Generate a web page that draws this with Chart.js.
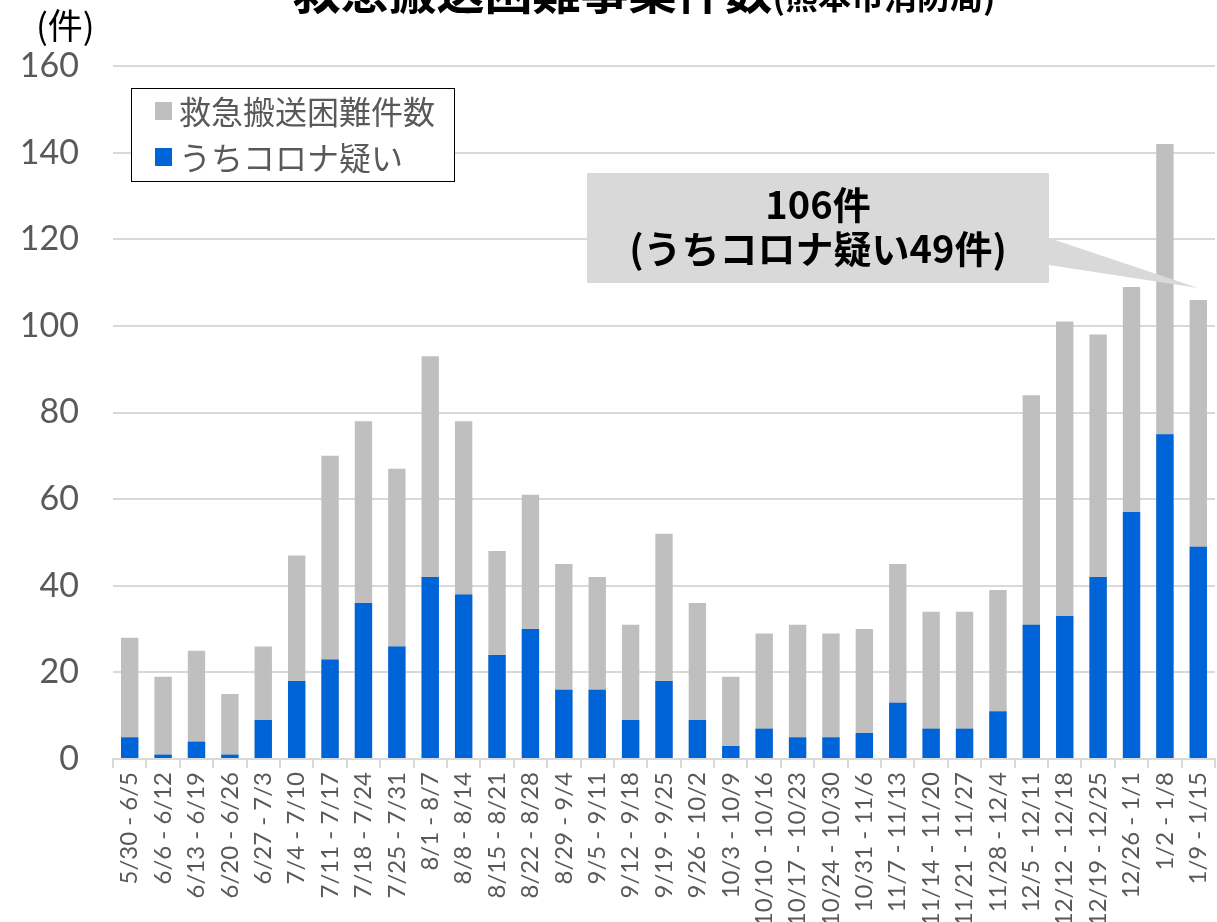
<!DOCTYPE html>
<html lang="ja">
<head>
<meta charset="utf-8">
<title>救急搬送困難事案件数(熊本市消防局)</title>
<script src="https://cdn.jsdelivr.net/npm/chart.js@4.4.1/dist/chart.umd.min.js"></script>
<style>
  html, body { margin: 0; padding: 0; background: #fff; }
  #wrap { position: relative; width: 1217px; height: 922px; }
</style>
</head>
<body>
<div id="wrap"><canvas id="chart" width="1217" height="922"></canvas></div>
<script>
"use strict";

// ---------- data ----------

const weeks = [
  "5/30 - 6/5", "6/6 - 6/12", "6/13 - 6/19", "6/20 - 6/26", "6/27 - 7/3",
  "7/4 - 7/10", "7/11 - 7/17", "7/18 - 7/24", "7/25 - 7/31", "8/1 - 8/7",
  "8/8 - 8/14", "8/15 - 8/21", "8/22 - 8/28", "8/29 - 9/4", "9/5 - 9/11",
  "9/12 - 9/18", "9/19 - 9/25", "9/26 - 10/2", "10/3 - 10/9", "10/10 - 10/16",
  "10/17 - 10/23", "10/24 - 10/30", "10/31 - 11/6", "11/7 - 11/13", "11/14 - 11/20",
  "11/21 - 11/27", "11/28 - 12/4", "12/5 - 12/11", "12/12 - 12/18", "12/19 - 12/25",
  "12/26 - 1/1", "1/2 - 1/8", "1/9 - 1/15",
];

const totalCases = [
  28, 19, 25, 15, 26, 47, 70, 78, 67, 93,
  78, 48, 61, 45, 42, 31, 52, 36, 19, 29,
  31, 29, 30, 45, 34, 34, 39, 84, 101, 98,
  109, 142, 106,
];

const coronaSuspected = [
  5, 1, 4, 1, 9, 18, 23, 36, 26, 42,
  38, 24, 30, 16, 16, 9, 18, 9, 3, 7,
  5, 5, 6, 13, 7, 7, 11, 31, 33, 42,
  57, 75, 49,
];

const yTicks = [0, 20, 40, 60, 80, 100, 120, 140, 160];

const TITLE_MAIN = "救急搬送困難事案件数";
const TITLE_SUB = "(熊本市消防局)";
const UNIT_LABEL = "(件)";
const CALLOUT_LINES = ["106件", "(うちコロナ疑い49件)"];

const GRAY = "#bfbfbf";
const BLUE = "#0064d9";
const TEXT = "#595959";
const GRID = "#d9d9d9";
const JP = "'Noto Sans CJK JP', 'Noto Sans', sans-serif";
const NUM = "Lato, 'Liberation Sans', 'Noto Sans CJK JP', sans-serif";

// ---------- overlay: title, unit, legend, callout ----------

const overlay = {
  id: "overlay",
  afterDraw(c) {
    const ctx = c.ctx;
    const xs = c.scales.x;
    const ys = c.scales.y;
    ctx.save();

    // title (cut off at top, like the source)
    ctx.fillStyle = "#000";
    ctx.textBaseline = "alphabetic";
    ctx.textAlign = "left";
    ctx.font = "bold 48px " + JP;
    const wMain = ctx.measureText(TITLE_MAIN).width;
    ctx.font = "bold 33px " + JP;
    const wSub = ctx.measureText(TITLE_SUB).width;
    const tx = 644 - (wMain + wSub) / 2;
    ctx.font = "bold 48px " + JP;
    ctx.fillText(TITLE_MAIN, tx, 9);
    ctx.font = "bold 33px " + JP;
    ctx.fillText(TITLE_SUB, tx + wMain, 9);

    // unit label
    ctx.font = "35px " + JP;
    ctx.textBaseline = "middle";
    ctx.fillText(UNIT_LABEL, 36, 26);

    // legend box
    ctx.fillStyle = "#fff";
    ctx.fillRect(131, 88, 323, 93);
    ctx.strokeStyle = "#000";
    ctx.lineWidth = 1;
    ctx.strokeRect(131.5, 88.5, 323, 93);
    const items = c.data.datasets;
    const rows = [111, 157];
    items.forEach((ds, i) => {
      ctx.fillStyle = ds.backgroundColor;
      ctx.fillRect(155, rows[i] - 9, 17, 18);
      ctx.fillStyle = TEXT;
      ctx.font = "32px " + JP;
      ctx.textBaseline = "middle";
      ctx.fillText(ds.label, 179, rows[i] + 1);
    });

    // callout pointing at last bar
    const last = weeks.length - 1;
    const tipX = xs.getPixelForValue(last);
    const tipY = ys.getPixelForValue(totalCases[last]) - 12;
    ctx.fillStyle = GRID;
    ctx.beginPath();
    ctx.moveTo(1049, 238);
    ctx.lineTo(tipX, tipY);
    ctx.lineTo(1049, 265);
    ctx.closePath();
    ctx.fill();
    ctx.fillRect(587, 173, 462, 110);

    ctx.fillStyle = "#000";
    ctx.textAlign = "center";
    ctx.textBaseline = "middle";
    ctx.font = "bold 38px " + JP;
    ctx.fillText(CALLOUT_LINES[0], 818, 205);
    ctx.fillText(CALLOUT_LINES[1], 818, 249);

    ctx.restore();
  },
};

// ---------- chart ----------

new Chart(document.getElementById("chart"), {
  type: "bar",
  data: {
    labels: weeks,
    datasets: [
      {
        label: "救急搬送困難件数",
        data: totalCases,
        backgroundColor: GRAY,
        grouped: false,
        order: 2,
        barPercentage: 0.52,
        categoryPercentage: 1,
      },
      {
        label: "うちコロナ疑い",
        data: coronaSuspected,
        backgroundColor: BLUE,
        grouped: false,
        order: 1,
        barPercentage: 0.52,
        categoryPercentage: 1,
      },
    ],
  },
  options: {
    responsive: false,
    animation: false,
    layout: { padding: { top: 66, right: 2, left: 0, bottom: 0 } },
    plugins: {
      legend: { display: false },
      tooltip: { enabled: false },
      title: { display: false },
    },
    scales: {
      x: {
        grid: { drawOnChartArea: false, drawTicks: true, tickLength: 9, color: GRID, lineWidth: 2 },
        border: { color: GRID, width: 2 },
        ticks: {
          color: TEXT,
          font: { family: NUM, size: 24 },
          minRotation: 90,
          maxRotation: 90,
          autoSkip: false,
          padding: 4,
        },
        afterFit(s) {
          s.height = 163;
          s.paddingLeft = 0;
          s.paddingRight = 0;
        },
      },
      y: {
        min: 0,
        max: 160,
        afterBuildTicks(s) { s.ticks = yTicks.map((v) => ({ value: v })); },
        grid: { color: GRID, lineWidth: 2, drawTicks: false },
        border: { display: false },
        ticks: {
          color: TEXT,
          font: { family: NUM, size: 34 },
          padding: 34,
        },
        afterFit(s) { s.width = 113; },
      },
    },
  },
  plugins: [overlay],
});
</script>
</body>
</html>
